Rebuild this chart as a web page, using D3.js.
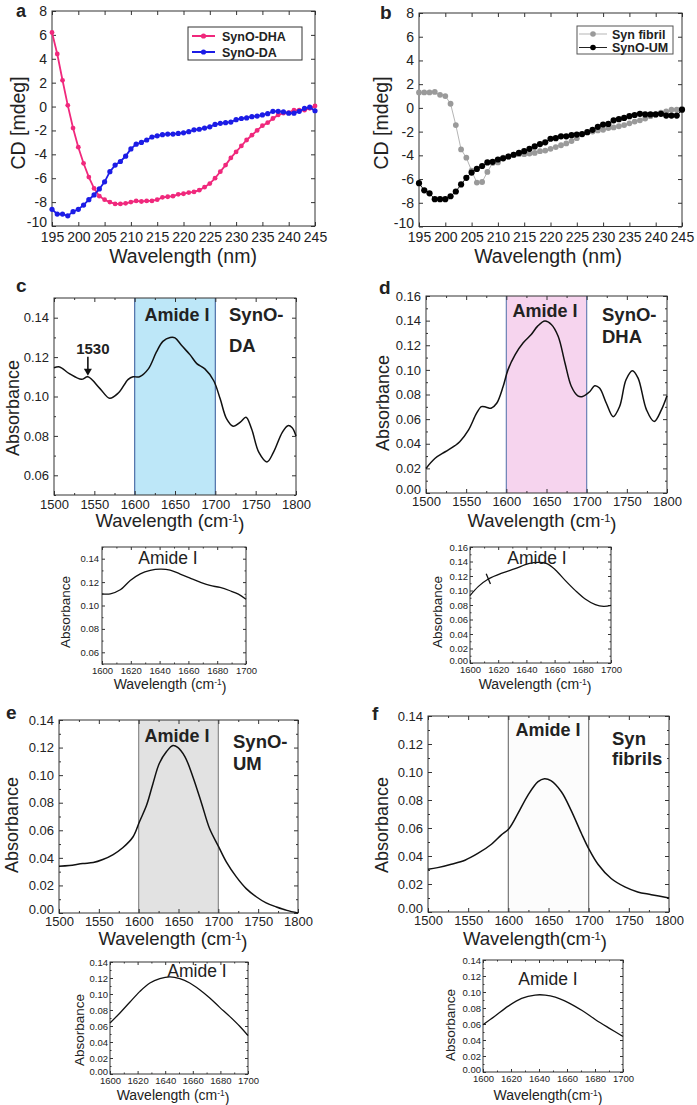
<!DOCTYPE html>
<html><head><meta charset="utf-8">
<script src="https://cdn.jsdelivr.net/npm/d3@7"></script>
<style>body{margin:0;background:#fff}svg{display:block}text{font-family:"Liberation Sans",Arial,sans-serif;fill:#222}</style>
</head><body>
<script>
// ---------- DATA ----------
const cdWavelength = [195,196,197,198,199,200,201,202,203,204,205,206,207,208,209,210,211,212,213,214,215,216,217,218,219,220,221,222,223,224,225,226,227,228,229,230,231,232,233,234,235,236,237,238,239,240,241,242,243,244,245];
const synoDHA = [6.2,4.4,2.2,0.1,-1.8,-3.4,-4.75,-5.9,-6.85,-7.5,-7.8,-8.0,-8.15,-8.15,-8.1,-8.0,-7.9,-7.95,-7.9,-7.9,-7.8,-7.6,-7.55,-7.5,-7.35,-7.3,-7.2,-7.15,-7.0,-6.75,-6.45,-6.0,-5.45,-4.9,-4.3,-3.8,-3.3,-2.8,-2.4,-2.0,-1.6,-1.35,-1.0,-0.7,-0.55,-0.5,-0.3,-0.3,-0.3,-0.15,0.05];
const synoDA = [-8.6,-9.0,-9.0,-9.15,-8.8,-8.6,-8.25,-7.8,-7.4,-6.9,-6.3,-5.45,-4.9,-4.6,-4.15,-3.55,-3.15,-3.0,-2.8,-2.55,-2.45,-2.35,-2.3,-2.3,-2.25,-2.2,-2.1,-1.95,-1.9,-1.8,-1.7,-1.5,-1.4,-1.35,-1.3,-1.1,-1.0,-0.95,-0.85,-0.8,-0.7,-0.6,-0.4,-0.4,-0.45,-0.55,-0.55,-0.4,-0.15,-0.05,-0.35];
const synFibril = [1.3,1.3,1.3,1.35,1.1,1.0,0.35,-1.45,-3.5,-4.2,-5.3,-6.3,-6.25,-5.4,-4.65,-4.6,-4.2,-4.1,-3.95,-3.9,-3.9,-3.85,-3.8,-3.65,-3.6,-3.45,-3.3,-3.15,-3.0,-2.8,-2.55,-2.25,-2.05,-2.0,-1.9,-1.85,-1.7,-1.65,-1.55,-1.45,-1.3,-1.15,-1.05,-0.9,-0.7,-0.55,-0.4,-0.3,-0.15,-0.15,-0.1];
const synoUM = [-6.35,-6.95,-7.2,-7.7,-7.7,-7.7,-7.45,-7.05,-6.45,-5.9,-5.45,-5.15,-4.9,-4.6,-4.55,-4.35,-4.25,-4.1,-3.95,-3.8,-3.65,-3.45,-3.25,-3.05,-2.9,-2.6,-2.55,-2.4,-2.4,-2.3,-2.25,-2.2,-2.05,-1.85,-1.6,-1.4,-1.35,-1.05,-0.95,-0.85,-0.7,-0.6,-0.5,-0.55,-0.55,-0.55,-0.5,-0.65,-0.65,-0.65,-0.15];
const cdXTicks = [195,200,205,210,215,220,225,230,235,240,245];
const cdYTicks = [-10,-8,-6,-4,-2,0,2,4,6,8];

const daWn = [1500,1507,1519,1534,1542,1557,1569,1580,1592,1598,1606,1617,1627,1635,1644,1650,1658,1669,1677,1687,1698,1706,1714,1722,1731,1738,1745,1754,1764,1772,1783,1790,1795,1800];
const daAbs = [0.1146,0.115,0.1116,0.1087,0.110,0.104,0.0991,0.1019,0.1087,0.110,0.110,0.114,0.1226,0.128,0.130,0.1298,0.126,0.121,0.1167,0.114,0.108,0.0988,0.0886,0.0849,0.087,0.0895,0.0835,0.0716,0.0668,0.0716,0.0818,0.0852,0.0843,0.080];
const dhaWn = [1500,1511,1524,1536,1542,1553,1563,1569,1575,1581,1588,1596,1602,1611,1621,1631,1639,1648,1656,1664.5,1673,1681,1689,1695,1704,1710,1716,1724.5,1733,1741,1749,1757,1764,1774.5,1784,1793,1800];
const dhaAbs = [0.0199,0.028,0.0335,0.0384,0.0416,0.0512,0.0648,0.0702,0.0697,0.0689,0.0729,0.0865,0.100,0.1124,0.122,0.1287,0.1355,0.1396,0.1369,0.1273,0.1056,0.0865,0.0789,0.0784,0.0824,0.0871,0.0852,0.0729,0.062,0.0702,0.092,0.0993,0.0933,0.0675,0.058,0.0675,0.079];
const umWn = [1500,1513,1530,1543,1555,1568,1580,1593,1601,1610,1618,1626,1635,1643,1649,1658,1668,1679,1689,1700,1710,1722.6,1735,1748,1760,1773,1786,1800];
const umAbs = [0.0339,0.0344,0.0359,0.0366,0.0388,0.0424,0.0473,0.0553,0.0662,0.0783,0.094,0.1086,0.1171,0.1215,0.1202,0.1135,0.0989,0.0795,0.0613,0.0485,0.0371,0.0262,0.0177,0.0116,0.0073,0.0044,0.0019,0.0];
const fibWn = [1500,1512,1529,1546,1562,1579,1591,1601,1612,1624.5,1637,1645,1653,1666,1678,1691,1700,1711.6,1728,1745,1761,1778,1800];
const fibAbs = [0.0305,0.0317,0.0341,0.037,0.0418,0.0484,0.0549,0.0597,0.0704,0.0835,0.0931,0.0952,0.0938,0.0859,0.0728,0.0561,0.0453,0.0341,0.0239,0.0179,0.0143,0.0124,0.0100];

const daInWn = [1600,1605.8,1612.7,1619.6,1626.6,1633.5,1640.4,1647.3,1654.3,1661.2,1668.1,1675,1682,1688.9,1694.7,1700];
const daInAbs = [0.110,0.110,0.1134,0.1214,0.1271,0.130,0.1311,0.1303,0.1269,0.1234,0.120,0.1171,0.1154,0.1126,0.1097,0.1054];
const dhaInWn = [1600,1606,1613,1622.6,1632,1641.5,1648.6,1654.5,1660.4,1667.5,1674.6,1681.7,1688.9,1694.8,1700];
const dhaInAbs = [0.0929,0.1057,0.1159,0.1241,0.1301,0.137,0.1388,0.137,0.1287,0.114,0.1002,0.0883,0.0805,0.0782,0.0795];
const umInWn = [1600,1607.2,1614.5,1621.7,1628.9,1636.1,1643.4,1650.6,1657.8,1665,1672.3,1679.5,1686.7,1694,1700];
const umInAbs = [0.0638,0.0763,0.09,0.1033,0.1138,0.1192,0.1213,0.1192,0.1138,0.1054,0.095,0.0833,0.072,0.0596,0.0479];
const fibInWn = [1600,1608.4,1618,1627.6,1637.2,1644.4,1651.6,1661.2,1670.8,1680.4,1690,1700];
const fibInAbs = [0.0591,0.0696,0.0823,0.092,0.0962,0.0962,0.0937,0.0865,0.0768,0.0654,0.0549,0.0443];

const ftirXTicks = [1500,1550,1600,1650,1700,1750,1800];
const ftirXMinor = [1525,1575,1625,1675,1725,1775];
const insetXTicks = [1600,1620,1640,1660,1680,1700];
const insetXMinor = [1610,1630,1650,1670,1690];
const yTicksDA = [0.06,0.08,0.10,0.12,0.14];
const yMinorDA = [0.05,0.07,0.09,0.11,0.13,0.15];
const yTicks016 = [0.00,0.02,0.04,0.06,0.08,0.10,0.12,0.14,0.16];
const yTicks014 = [0.00,0.02,0.04,0.06,0.08,0.10,0.12,0.14];
const yMinor016 = [0.01,0.03,0.05,0.07,0.09,0.11,0.13,0.15];
const yMinor014 = [0.01,0.03,0.05,0.07,0.09,0.11,0.13];
const amideBand = [1600,1700];
const peak1530 = {wn:1542, abs:0.1105, label:"1530"};

// ---------- DRAW ----------
const svg = d3.select("body").append("svg").attr("width",697).attr("height",1105);
svg.append("rect").attr("width",697).attr("height",1105).attr("fill","#fff");
const FONT = '"Liberation Sans",Arial,sans-serif';

function xTitle(g, cx, by, size, nospace){
  const t = g.append("text").attr("x",cx).attr("y",by).attr("text-anchor","middle").style("font-size",size+"px");
  t.append("tspan").text(nospace ? "Wavelength(cm" : "Wavelength (cm");
  t.append("tspan").attr("dy","-0.45em").style("font-size",(size*0.6)+"px").text("-1");
  t.append("tspan").attr("dy","0.45em").text(")");
}
function yTitle(g, cx, cy, size, txt){
  g.append("text").attr("transform",`translate(${cx},${cy}) rotate(-90)`).attr("text-anchor","middle")
   .attr("dy","0.35em").style("font-size",size+"px").text(txt);
}

function frame(c){
  const g = svg.append("g");
  const x = d3.scaleLinear().domain(c.xd).range([c.l,c.r]);
  const y = d3.scaleLinear().domain(c.yd).range([c.b,c.t]);
  if(c.band){
    const bx0 = x(amideBand[0]), bx1 = x(amideBand[1]);
    g.append("rect").attr("x",bx0).attr("y",c.t).attr("width",bx1-bx0).attr("height",c.b-c.t).attr("fill",c.band.fill);
    g.selectAll("line.bd").data(amideBand).join("line").attr("x1",d=>x(d)).attr("x2",d=>x(d))
      .attr("y1",c.t).attr("y2",c.b).attr("stroke",c.band.stroke).attr("stroke-width",1.2);
  }
  const ts = c.ts||4, tsm = c.tsm||2;
  const style = ag => { ag.select(".domain").remove(); ag.selectAll("line").attr("stroke","#333");
    ag.selectAll("text").style("font-size",c.fs+"px").attr("fill","#222").style("font-family",FONT); };
  const mk = (axis, tr, vals, size, fmt, pad) => {
    const a = axis.tickValues(vals).tickSizeInner(-size).tickSizeOuter(0).tickPadding(pad||4).tickFormat(fmt || (() => ""));
    const ag = g.append("g").attr("transform",tr).call(a); style(ag); return ag;
  };
  mk(d3.axisBottom(x), `translate(0,${c.b})`, c.xt, ts, d=>d, c.xpad);
  const yl = mk(d3.axisLeft(y), `translate(${c.l},0)`, c.yt, ts, c.fmt, c.pad);
  // lift the lowest y label slightly so it clears the first x label, as in the source
  if(c.lift) yl.selectAll(".tick").filter(d=>d===c.yd[0]).select("text").attr("dy", c.lift);
  mk(d3.axisTop(x), `translate(0,${c.t})`, c.xt, ts);
  mk(d3.axisRight(y), `translate(${c.r},0)`, c.yt, ts);
  if(c.xm){ mk(d3.axisBottom(x), `translate(0,${c.b})`, c.xm, tsm); mk(d3.axisTop(x), `translate(0,${c.t})`, c.xm, tsm); }
  if(c.ym){ mk(d3.axisLeft(y), `translate(${c.l},0)`, c.ym, tsm); mk(d3.axisRight(y), `translate(${c.r},0)`, c.ym, tsm); }
  g.append("rect").attr("x",c.l).attr("y",c.t).attr("width",c.r-c.l).attr("height",c.b-c.t)
    .attr("fill","none").attr("stroke","#333").attr("stroke-width",1);
  return {g,x,y};
}

function spectrum(p, wn, ab, sw){
  const pts = wn.map((w,i)=>[w,ab[i]]);
  p.g.append("path").datum(pts).attr("fill","none").attr("stroke","#111").attr("stroke-width",sw||1.5)
    .attr("d", d3.line().x(d=>p.x(d[0])).y(d=>p.y(d[1])).curve(d3.curveCatmullRom.alpha(0.5)));
}

function cdSeries(p, vals, lineColor, ptColor, r, lw){
  const pts = cdWavelength.map((w,i)=>[w,vals[i]]);
  p.g.append("path").datum(pts).attr("fill","none").attr("stroke",lineColor).attr("stroke-width",lw)
    .attr("d", d3.line().x(d=>p.x(d[0])).y(d=>p.y(d[1])));
  p.g.selectAll(null).data(pts).join("circle").attr("cx",d=>p.x(d[0])).attr("cy",d=>p.y(d[1])).attr("r",r).attr("fill",ptColor);
}

function letter(t,x,y,s){ svg.append("text").attr("x",x).attr("y",y).style("font-size",(s||19)+"px").style("font-weight","bold").attr("fill","#111").text(t); }
function label(g,t,x,y,size,weight,anchor){ g.append("text").attr("x",x).attr("y",y).attr("text-anchor",anchor||"start")
  .style("font-size",size+"px").style("font-weight",weight||"normal").attr("fill","#111").text(t); }

const f2 = d=>d3.format(".2f")(d);

// ---- Panel a ----
const pa = frame({l:52,r:315,t:11,b:226,xd:[195,245],yd:[-10,8],xt:cdXTicks,yt:cdYTicks,fs:14,fmt:d=>d,pad:5,xpad:6,lift:"0.05em"});
cdSeries(pa, synoDHA, "#f0287c", "#f0287c", 2.4, 1.8);
cdSeries(pa, synoDA, "#1c1ce6", "#1c1ce6", 2.6, 1.8);
pa.g.append("text").attr("x",183).attr("y",263).attr("text-anchor","middle").style("font-size","19.5px").text("Wavelength (nm)");
yTitle(pa.g, 18, 123, 19.5, "CD [mdeg]");
{
  const lg = pa.g.append("g");
  lg.append("rect").attr("x",188).attr("y",27).attr("width",114).attr("height",33).attr("fill","#fff").attr("stroke","#333");
  [["SynO-DHA","#f0287c",36],["SynO-DA","#1c1ce6",52]].forEach(([n,c,yy])=>{
    lg.append("line").attr("x1",192).attr("x2",215).attr("y1",yy).attr("y2",yy).attr("stroke",c).attr("stroke-width",2);
    lg.append("circle").attr("cx",203.5).attr("cy",yy).attr("r",2.6).attr("fill",c);
    label(lg,n,222,yy+4.5,12.5,"bold");
  });
}
letter("a",16,17,18);

// ---- Panel b ----
const pb = frame({l:419,r:682,t:13,b:226.5,xd:[195,245],yd:[-10,8],xt:cdXTicks,yt:cdYTicks,fs:14,fmt:d=>d,pad:5,xpad:6,lift:"0.05em"});
cdSeries(pb, synFibril, "#b5b5b5", "#9a9a9a", 2.9, 1);
cdSeries(pb, synoUM, "#222", "#000", 3.1, 1);
pb.g.append("text").attr("x",548).attr("y",263).attr("text-anchor","middle").style("font-size","19.5px").text("Wavelength (nm)");
yTitle(pb.g, 381, 123, 19.5, "CD [mdeg]");
{
  const lg = pb.g.append("g");
  lg.append("rect").attr("x",577).attr("y",26).attr("width",96).attr("height",28).attr("fill","#fff").attr("stroke","#555");
  [["Syn fibril","#b5b5b5","#9a9a9a",34],["SynO-UM","#222","#000",47.5]].forEach(([n,c,pc,yy])=>{
    lg.append("line").attr("x1",579).attr("x2",607).attr("y1",yy).attr("y2",yy).attr("stroke",c).attr("stroke-width",1);
    lg.append("circle").attr("cx",593).attr("cy",yy).attr("r",2.8).attr("fill",pc);
    label(lg,n,612,yy+4.5,12.5,"bold");
  });
}
letter("b",380,19);

// ---- Panel c ----
const pc = frame({l:54,r:296,t:298,b:495,xd:[1500,1800],yd:[0.05,0.15],xt:ftirXTicks,xm:ftirXMinor,yt:yTicksDA,ym:yMinorDA,fs:13,fmt:f2,pad:5,xpad:5,
  band:{fill:"#bde7f8",stroke:"#4d6fa8"}});
spectrum(pc, daWn, daAbs, 1.5);
label(pc.g,"Amide I",177,321,18,"bold","middle");
label(pc.g,"SynO-",229,321,18.5,"bold");
label(pc.g,"DA",229,352,18.5,"bold");
{
  const ax = pc.x(peak1530.wn), ay = pc.y(peak1530.abs);
  pc.g.append("line").attr("x1",ax).attr("x2",ax).attr("y1",ay-19).attr("y2",ay-6).attr("stroke","#111").attr("stroke-width",1.6);
  pc.g.append("path").attr("d",`M${ax-4},${ay-7}L${ax+4},${ay-7}L${ax},${ay}Z`).attr("fill","#111");
  label(pc.g,peak1530.label,ax+5,ay-22,15,"bold","middle");
}
yTitle(pc.g, 13, 408, 18, "Absorbance");
xTitle(pc.g, 170, 527, 18.5);
letter("c",16,292);

// ---- Panel d ----
const pd = frame({l:426,r:667,t:296,b:493,xd:[1500,1800],yd:[0,0.16],xt:ftirXTicks,xm:ftirXMinor,yt:yTicks016,ym:yMinor016,fs:13,fmt:f2,pad:5,xpad:4,lift:"0.05em",
  band:{fill:"#f6d4ee",stroke:"#6a80b4"}});
spectrum(pd, dhaWn, dhaAbs, 1.5);
label(pd.g,"Amide I",545,317,18,"bold","middle");
label(pd.g,"SynO-",602,321,18.5,"bold");
label(pd.g,"DHA",602,343,18.5,"bold");
yTitle(pd.g, 383, 403, 18, "Absorbance");
xTitle(pd.g, 542, 527, 18.5);
letter("d",379,294);

// ---- inset c ----
const pci = frame({l:102,r:246,t:547,b:664,xd:[1600,1700],yd:[0.05,0.15],xt:insetXTicks,xm:insetXMinor,yt:yTicksDA,ym:yMinorDA,fs:9.5,fmt:f2,pad:3,xpad:3,ts:3,tsm:1.5});
spectrum(pci, daInWn, daInAbs, 1.3);
label(pci.g,"Amide I",168,564,17.5,"normal","middle");
yTitle(pci.g, 65, 612, 13.5, "Absorbance");
xTitle(pci.g, 170, 689, 14);

// ---- inset d ----
const pdi = frame({l:470,r:611,t:547,b:663,xd:[1600,1700],yd:[0,0.16],xt:insetXTicks,xm:insetXMinor,yt:yTicks016,ym:yMinor016,fs:9.5,fmt:f2,pad:2,xpad:3.5,ts:3,tsm:1.5,lift:"0.05em"});
spectrum(pdi, dhaInWn, dhaInAbs, 1.3);
pdi.g.append("line").attr("x1",pdi.x(1611.5)).attr("x2",pdi.x(1614.5)).attr("y1",pdi.y(0.123)).attr("y2",pdi.y(0.109)).attr("stroke","#111").attr("stroke-width",1.3);
label(pdi.g,"Amide I",537,564,17.5,"normal","middle");
yTitle(pdi.g, 437, 612, 13.5, "Absorbance");
xTitle(pdi.g, 535, 689, 14);

// ---- Panel e ----
const pe = frame({l:59,r:298,t:720,b:913,xd:[1500,1800],yd:[0,0.14],xt:ftirXTicks,xm:ftirXMinor,yt:yTicks014,ym:yMinor014,fs:13,fmt:f2,pad:5,xpad:4,lift:"0.05em",
  band:{fill:"#e2e2e2",stroke:"#8a8a8a"}});
spectrum(pe, umWn, umAbs, 1.5);
label(pe.g,"Amide I",177,742,18,"bold","middle");
label(pe.g,"SynO-",233,748,18.5,"bold");
label(pe.g,"UM",233,770,18.5,"bold");
yTitle(pe.g, 12, 825, 18, "Absorbance");
xTitle(pe.g, 173, 945, 18.5);
letter("e",6,719);

// ---- Panel f ----
const pf = frame({l:428,r:669,t:716,b:912,xd:[1500,1800],yd:[0,0.14],xt:ftirXTicks,xm:ftirXMinor,yt:yTicks014,ym:yMinor014,fs:13,fmt:f2,pad:5,xpad:4,lift:"0.05em",
  band:{fill:"#fcfcfc",stroke:"#777"}});
spectrum(pf, fibWn, fibAbs, 1.5);
label(pf.g,"Amide I",548,736,18,"bold","middle");
label(pf.g,"Syn",612,745,18.5,"bold");
label(pf.g,"fibrils",612,765,18.5,"bold");
yTitle(pf.g, 382, 825, 18, "Absorbance");
xTitle(pf.g, 535, 945, 18.5, true);
letter("f",372,720);

// ---- inset e ----
const pei = frame({l:110,r:248,t:962,b:1074,xd:[1600,1700],yd:[0,0.14],xt:insetXTicks,xm:insetXMinor,yt:yTicks014,ym:yMinor014,fs:9.5,fmt:f2,pad:2,xpad:3.5,ts:3,tsm:1.5,lift:"0.05em"});
spectrum(pei, umInWn, umInAbs, 1.3);
label(pei.g,"Amide I",197,977,17.5,"normal","middle");
yTitle(pei.g, 79, 1030, 13.5, "Absorbance");
xTitle(pei.g, 173, 1100, 14);

// ---- inset f ----
const pfi = frame({l:483,r:623,t:960,b:1072,xd:[1600,1700],yd:[0,0.14],xt:insetXTicks,xm:insetXMinor,yt:yTicks014,ym:yMinor014,fs:9.5,fmt:f2,pad:2,xpad:3.5,ts:3,tsm:1.5,lift:"0.05em"});
spectrum(pfi, fibInWn, fibInAbs, 1.3);
label(pfi.g,"Amide I",548,985,17.5,"normal","middle");
yTitle(pfi.g, 450, 1025, 13.5, "Absorbance");
xTitle(pfi.g, 548, 1100, 14, true);
</script>
</body></html>
